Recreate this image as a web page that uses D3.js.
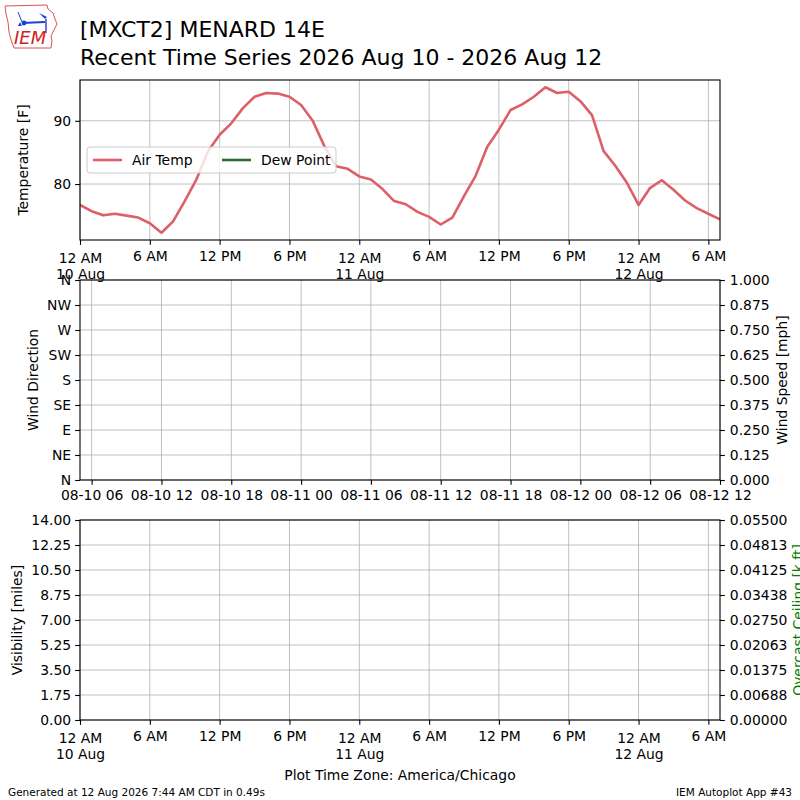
<!DOCTYPE html>
<html>
<head>
<meta charset="utf-8">
<script src="https://cdn.jsdelivr.net/npm/d3@7"></script>
<style>
  body { margin: 0; background: #fff; }
  text { font-family: "DejaVu Sans", sans-serif; }
</style>
</head>
<body>
<script>
/*
*    IEM recent time series, rebuilt with d3
*/

// hourly air temperature [F], 12 AM 10 Aug .. 7 AM 12 Aug (America/Chicago)
var airTemp = [
  76.7, 75.7, 75.05, 75.3, 75.0, 74.7, 73.8, 72.3, 74.1, 77.3,
  80.7, 85.2, 87.8, 89.6, 92.0, 93.8, 94.4, 94.3, 93.8, 92.5,
  90.0, 86.0, 82.8, 82.4, 81.2, 80.7, 79.2, 77.3, 76.8, 75.6,
  74.8, 73.6, 74.7, 78.1, 81.3, 85.9, 88.6, 91.7, 92.6, 93.8,
  95.3, 94.4, 94.6, 93.1, 90.9, 85.2, 82.9, 80.2, 76.7, 79.4,
  80.6, 79.1, 77.4, 76.2, 75.3, 74.4
];
var dewPoint = [];
var seriesNames = ["Air Temp", "Dew Point"];
var seriesColors = ["#dd5f67", "#2e6b2e"];

var tempTicks = [80, 90];
var dirTicks = [0, 45, 90, 135, 180, 225, 270, 315, 360];
var dirLabels = ["N", "NE", "E", "SE", "S", "SW", "W", "NW", "N"];
var speedTicks = [0, 0.125, 0.25, 0.375, 0.5, 0.625, 0.75, 0.875, 1.0];
var visTicks = [0, 1.75, 3.5, 5.25, 7, 8.75, 10.5, 12.25, 14];
var ceilTicks = [0, 0.006875, 0.01375, 0.020625, 0.0275, 0.034375, 0.04125, 0.048125, 0.055];
var ceilLabels = ["0.00000", "0.00688", "0.01375", "0.02063", "0.02750",
                  "0.03438", "0.04125", "0.04813", "0.05500"];

// local times stored as UTC fields so the formatter prints wall clock time
var tStart = Date.UTC(2026, 7, 10, 0);
var tEnd = Date.UTC(2026, 7, 12, 7);
var times = airTemp.map(function(d, i) { return new Date(tStart + i * 3600e3); });

var W = 800, H = 800;
var left = 80, right = 720;
var panels = {
  temp: {top: 80, bottom: 240},
  wind: {top: 280, bottom: 480},
  vis: {top: 520, bottom: 720}
};
var tickLen = 4.86, fs = 13.9;
var gridColor = "#b0b0b0";

var svg = d3.select("body")
  .append("svg")
  .attr("width", W)
  .attr("height", H);

var x = d3.scaleUtc()
  .domain([new Date(tStart), new Date(tEnd)])
  .range([left, right]);

// the wind panel is labelled in UTC (CDT + 5 h)
var xUtc = d3.scaleUtc()
  .domain([new Date(tStart + 5 * 3600e3), new Date(tEnd + 5 * 3600e3)])
  .range([left, right]);

var localTicks = x.ticks(d3.utcHour.every(6));
var utcTicks = xUtc.ticks(d3.utcHour.every(6));

function hourLabel(d) {
  var h = d.getUTCHours();
  if (h == 0) return "12 AM";
  if (h == 12) return "12 PM";
  return (h % 12) + (h < 12 ? " AM" : " PM");
}

function grid(p, xs, xScale, ys, yScale) {
  var g = svg.append("g").attr("class", "grid");
  g.selectAll("line.v")
    .data(xs)
    .enter()
    .append("line")
    .attr("x1", function(d) { return xScale(d); })
    .attr("x2", function(d) { return xScale(d); })
    .attr("y1", p.top)
    .attr("y2", p.bottom)
    .attr("stroke", gridColor)
    .attr("stroke-width", 0.8);
  g.selectAll("line.h")
    .data(ys)
    .enter()
    .append("line")
    .attr("x1", left)
    .attr("x2", right)
    .attr("y1", function(d) { return yScale(d); })
    .attr("y2", function(d) { return yScale(d); })
    .attr("stroke", gridColor)
    .attr("stroke-width", 0.8);
}

function frame(p) {
  svg.append("rect")
    .attr("x", left)
    .attr("y", p.top)
    .attr("width", right - left)
    .attr("height", p.bottom - p.top)
    .attr("fill", "none")
    .attr("stroke", "#000")
    .attr("stroke-width", 1.1);
}

function styleAxis(g) {
  g.select(".domain").remove();
  g.selectAll(".tick line").attr("stroke", "#000").attr("stroke-width", 1.1);
  g.selectAll(".tick text")
    .attr("fill", "#000")
    .attr("font-size", fs + "px")
    .attr("font-family", "DejaVu Sans");
}

function localAxis(p) {
  var g = svg.append("g")
    .attr("class", "x axis")
    .attr("transform", "translate(0," + p.bottom + ")")
    .call(d3.axisBottom(x).tickValues(localTicks).tickFormat(hourLabel)
      .tickSize(tickLen).tickPadding(6));
  styleAxis(g);
  g.selectAll(".tick text").each(function(d) {
    if (d.getUTCHours() != 0) return;
    var t = d3.select(this);
    t.attr("y", tickLen + 8).text(null);
    t.append("tspan").attr("x", 0).text(hourLabel(d));
    t.append("tspan").attr("x", 0).attr("dy", "1.15em").text(d3.utcFormat("%-d %b")(d));
  });
}

function leftAxis(p, scale, ticks, fmt) {
  var g = svg.append("g")
    .attr("class", "y axis")
    .attr("transform", "translate(" + left + ",0)")
    .call(d3.axisLeft(scale).tickValues(ticks).tickFormat(fmt)
      .tickSize(tickLen).tickPadding(4));
  styleAxis(g);
}

function rightAxis(p, scale, ticks, fmt) {
  var g = svg.append("g")
    .attr("class", "y axis right")
    .attr("transform", "translate(" + right + ",0)")
    .call(d3.axisRight(scale).tickValues(ticks).tickFormat(fmt)
      .tickSize(tickLen).tickPadding(5));
  styleAxis(g);
}

function yLabel(xPos, yPos, txt, color) {
  svg.append("text")
    .attr("transform", "translate(" + xPos + "," + yPos + ") rotate(-90)")
    .attr("text-anchor", "middle")
    .attr("font-size", fs + "px")
    .attr("fill", color || "#000")
    .text(txt);
}

// ---------- temperature panel ----------
var pT = panels.temp;
var yT = d3.scaleLinear()
  .domain([71.15, 96.45])
  .range([pT.bottom, pT.top]);

grid(pT, localTicks, x, tempTicks, yT);

svg.append("clipPath")
  .attr("id", "clipT")
  .append("rect")
  .attr("x", left).attr("y", pT.top)
  .attr("width", right - left).attr("height", pT.bottom - pT.top);

var line = d3.line()
  .x(function(d, i) { return x(times[i]); })
  .y(function(d) { return yT(d); });

svg.append("path")
  .datum(airTemp)
  .attr("clip-path", "url(#clipT)")
  .attr("d", line)
  .attr("fill", "none")
  .attr("stroke", seriesColors[0])
  .attr("stroke-width", 2.6)
  .attr("stroke-linejoin", "round");

if (dewPoint.length) {
  svg.append("path")
    .datum(dewPoint)
    .attr("clip-path", "url(#clipT)")
    .attr("d", line)
    .attr("fill", "none")
    .attr("stroke", seriesColors[1])
    .attr("stroke-width", 2.6);
}

frame(pT);
localAxis(pT);
leftAxis(pT, yT, tempTicks, d3.format("d"));
yLabel(28, (pT.top + pT.bottom) / 2, "Temperature [F]");

// legend
var leg = svg.append("g").attr("transform", "translate(87,147)");
leg.append("rect")
  .attr("width", 249)
  .attr("height", 26)
  .attr("rx", 3)
  .attr("fill", "#fff")
  .attr("fill-opacity", 0.8)
  .attr("stroke", "#cccccc")
  .attr("stroke-width", 1);
var legItems = leg.selectAll("g.item")
  .data(seriesNames)
  .enter()
  .append("g")
  .attr("transform", function(d, i) { return "translate(" + (6 + i * 129) + ",13)"; });
legItems.append("line")
  .attr("x1", 0).attr("x2", 29)
  .attr("stroke", function(d, i) { return seriesColors[i]; })
  .attr("stroke-width", 2.6);
legItems.append("text")
  .attr("x", 39)
  .attr("dy", "0.36em")
  .attr("font-size", fs + "px")
  .text(function(d) { return d; });

// ---------- wind panel ----------
var pW = panels.wind;
var yDir = d3.scaleLinear().domain([0, 360]).range([pW.bottom, pW.top]);
var ySpd = d3.scaleLinear().domain([0, 1]).range([pW.bottom, pW.top]);

grid(pW, utcTicks, xUtc, dirTicks, yDir);
frame(pW);

var gw = svg.append("g")
  .attr("class", "x axis")
  .attr("transform", "translate(0," + pW.bottom + ")")
  .call(d3.axisBottom(xUtc).tickValues(utcTicks).tickFormat(d3.utcFormat("%m-%d %H"))
    .tickSize(tickLen).tickPadding(5));
styleAxis(gw);

leftAxis(pW, yDir, dirTicks, function(d, i) { return dirLabels[i]; });
rightAxis(pW, ySpd, speedTicks, d3.format(".3f"));
yLabel(38, (pW.top + pW.bottom) / 2, "Wind Direction");
yLabel(787, (pW.top + pW.bottom) / 2, "Wind Speed [mph]");

// ---------- visibility / ceiling panel ----------
var pV = panels.vis;
var yVis = d3.scaleLinear().domain([0, 14]).range([pV.bottom, pV.top]);
var yCeil = d3.scaleLinear().domain([0, 0.055]).range([pV.bottom, pV.top]);

grid(pV, localTicks, x, visTicks, yVis);
frame(pV);
localAxis(pV);
leftAxis(pV, yVis, visTicks, d3.format(".2f"));
rightAxis(pV, yCeil, ceilTicks, function(d, i) { return ceilLabels[i]; });
yLabel(22, (pV.top + pV.bottom) / 2, "Visibility [miles]");
yLabel(803, (pV.top + pV.bottom) / 2, "Overcast Ceiling [k ft]", "#008000");

// ---------- titles and footer ----------
svg.append("text")
  .attr("x", 80).attr("y", 37)
  .attr("font-size", "22px")
  .text("[MXCT2] MENARD 14E");
svg.append("text")
  .attr("x", 80).attr("y", 65)
  .attr("font-size", "22px")
  .text("Recent Time Series 2026 Aug 10 - 2026 Aug 12");

svg.append("text")
  .attr("x", 400).attr("y", 780)
  .attr("text-anchor", "middle")
  .attr("font-size", fs + "px")
  .text("Plot Time Zone: America/Chicago");
svg.append("text")
  .attr("x", 8).attr("y", 796)
  .attr("font-size", "10.5px")
  .text("Generated at 12 Aug 2026 7:44 AM CDT in 0.49s");
svg.append("text")
  .attr("x", 792).attr("y", 796)
  .attr("text-anchor", "end")
  .attr("font-size", "10.5px")
  .text("IEM Autoplot App #43");

// IEM logo: state outline, station glyph, letters
var logo = svg.append("g").attr("class", "logo");
logo.append("path")
  .attr("d", "M5,6 L47,5 L48,9 L53,13 L55,19 L57,24 L54,30 L51,36 L52,41 L51,48 L14,48 L11,40 L9,32 L8,22 L6,14 Z")
  .attr("fill", "none")
  .attr("stroke", "#e05050")
  .attr("stroke-width", 1);
logo.append("line")
  .attr("x1", 22).attr("y1", 23).attr("x2", 45).attr("y2", 22)
  .attr("stroke", "#1f3fd0").attr("stroke-width", 1.8);
logo.append("line")
  .attr("x1", 18).attr("y1", 12).attr("x2", 22).attr("y2", 22)
  .attr("stroke", "#1f3fd0").attr("stroke-width", 1);
logo.append("circle")
  .attr("cx", 24).attr("cy", 23).attr("r", 2.4)
  .attr("fill", "#1f3fd0");
logo.append("path")
  .attr("d", "M39,13 L47,17 L45,19 Z")
  .attr("fill", "#1f3fd0");
logo.append("line")
  .attr("x1", 46).attr("y1", 19).attr("x2", 46).attr("y2", 33)
  .attr("stroke", "#1f3fd0").attr("stroke-width", 1.4);
logo.append("path")
  .attr("d", "M18,26 L22,26 L20,22 Z")
  .attr("fill", "#1f3fd0");
logo.append("text")
  .attr("x", 14).attr("y", 44)
  .attr("font-family", "Liberation Serif")
  .attr("font-style", "italic")
  .attr("font-size", "18px")
  .attr("fill", "#d02020")
  .text("IEM");
</script>
</body>
</html>
